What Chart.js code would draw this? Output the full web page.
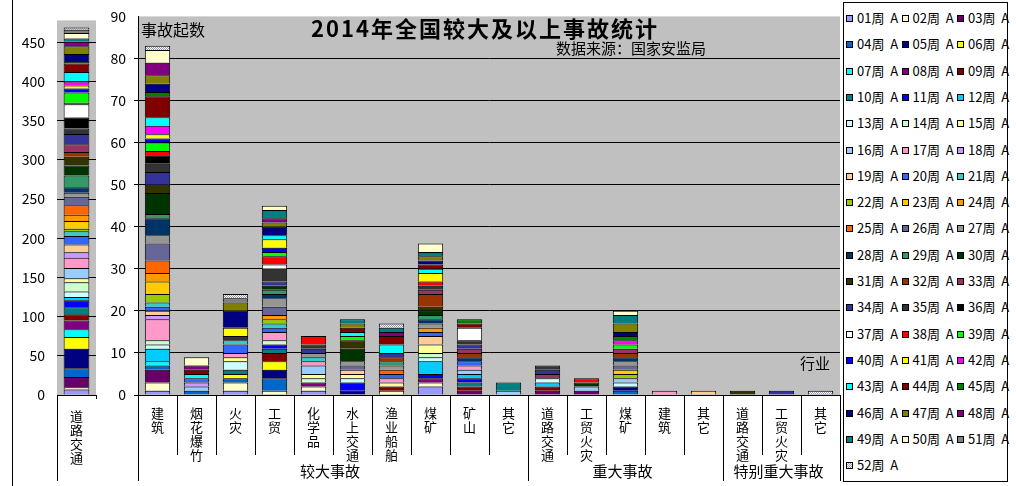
<!DOCTYPE html>
<html>
<head>
<meta charset="utf-8">
<script src="https://cdn.jsdelivr.net/npm/chart.js@4.4.0/dist/chart.umd.min.js"></script>
<style>
  body { margin: 0; background: #fff; font-family: "Noto Sans CJK SC", sans-serif; }
  #wrap { position: relative; width: 1016px; height: 486px; overflow: hidden; }
  canvas { position: absolute; top: 0; }
  #leftChart { left: 0; }
  #mainChart { left: 100px; }
  .txt { position: absolute; color: #000; white-space: nowrap; }
  #title { left: 285px; width: 400px; top: 11px; text-align: center; font-size: 22px; font-weight: bold; letter-spacing: 2px; }
  #src { left: 556px; top: 37px; font-size: 15px; }
  #ylab { left: 141px; top: 17px; font-size: 16px; }
  #xlab { left: 800px; top: 352px; font-size: 15px; }
  #frame { position: absolute; left: 12px; top: 0; width: 1px; height: 486px; background: #000; }
  #legend { position: absolute; left: 843px; top: 2px; width: 165px; height: 480px; border: 1px solid #000; box-sizing: border-box; background: #fff; }
  .item { position: absolute; height: 16px; line-height: 16px; font-size: 13px; white-space: pre; }
  .sw { display: inline-block; width: 5px; height: 5px; border: 1px solid #000; margin-right: 4px; vertical-align: 1px; }
</style>
</head>
<body>
<div id="wrap">
  <div id="frame"></div>
  <canvas id="leftChart" width="100" height="486"></canvas>
  <canvas id="mainChart" width="742" height="486"></canvas>
  <div id="legend"></div>
  <div class="txt" id="title">2014年全国较大及以上事故统计</div>
  <div class="txt" id="src">数据来源：国家安监局</div>
  <div class="txt" id="ylab">事故起数</div>
  <div class="txt" id="xlab">行业</div>
</div>
<script>
// weeks 01..52, one value per week for every industry bar
const weeks = ['01','02','03','04','05','06','07','08','09','10','11','12','13',
  '14','15','16','17','18','19','20','21','22','23','24','25','26',
  '27','28','29','30','31','32','33','34','35','36','37','38','39',
  '40','41','42','43','44','45','46','47','48','49','50','51','52'];

const weekColors = ['#9999FF','#FFFFCC','#660066','#0066CC','#000080','#FFFF00','#00FFFF','#800080','#800000','#008080',
  '#0000FF','#00CCFF','#CCFFFF','#CCFFCC','#FFFF99','#99CCFF','#FF99CC','#CC99FF','#FFCC99','#3366FF',
  '#33CCCC','#99CC00','#FFCC00','#FF9900','#FF6600','#666699','#969696','#003366','#339966','#003300',
  '#333300','#993300','#993366','#333399','#333333','#000000','#FFFFFF','#FF0000','#00FF00','#0000FF',
  '#FFFF00','#FF00FF','#00FFFF','#800000','#008000','#000080','#808000','#800080','#008080','#FFFFCC',
  '#808080','pattern'];

// 较大事故 道路交通 (own axis, left)
const lgRoad = [7,3,13,11,25,15,10,11,8,9,9,4,7,
  12,5,13,13,7,10,11,6,3,10,8,12,11,
  5,7,15,13,11,6,10,13,7,14,17,2,13,
  5,4,5,12,11,2,10,10,6,4,7,4,3];

// 较大事故
const lgBuild = [1,2,3,1,0,0,1,0,0,0,0,3,1,
  1,0,0,5,1,1,1,1,2,3,2,3,4,
  2,4,1,5,2,0,0,3,2,2,0,1,2,
  1,1,2,2,5,1,2,2,3,0,3,0,1];
const lgFireworks = [0,0,0,1,0,0,0,0,0,0,0,0,0,
  0,0,1,0,1,0,1,0,0,0,0,0,0,
  0,0,0,0,0,0,0,0,0,0,0,0,0,
  0,0,0,1,1,0,0,0,1,0,2,0,0];
const lgFire = [1,2,0,1,0,1,0,0,0,1,0,0,2,
  0,1,0,1,0,0,2,1,0,0,0,0,0,
  0,0,0,0,0,0,0,0,1,0,0,0,0,
  0,2,0,0,0,0,4,2,0,0,0,1,1];
const lgIndustry = [0,1,0,3,2,2,0,0,2,1,1,0,0,
  1,0,0,2,0,0,1,1,1,0,1,0,2,
  2,1,1,1,0,0,0,1,3,0,1,2,1,
  1,2,0,1,0,0,2,1,1,2,1,0,0];
const lgChemical = [1,1,0,0,0,0,0,1,0,0,0,0,0,
  1,1,2,1,0,0,0,1,0,0,0,0,0,
  1,0,0,0,0,0,0,1,1,0,0,2,0,
  0,0,0,0,0,0,0,0,0,0,0,0,0];
const lgWater = [0,0,0,0,1,0,0,0,0,0,2,0,1,
  0,1,0,0,0,1,0,0,0,0,0,0,1,
  1,0,0,3,2,0,0,0,0,0,0,0,1,
  0,0,0,1,1,0,0,1,0,1,0,0,0];
const lgFishing = [0,1,0,0,0,0,0,0,1,0,0,0,0,
  0,1,0,1,0,0,1,0,0,0,0,1,0,
  1,0,1,0,0,1,0,1,0,0,0,0,0,
  0,0,0,2,2,0,0,0,1,1,0,0,1];
const lgCoal = [2,1,0,0,0,0,0,1,0,0,1,3,1,
  1,2,0,0,0,2,1,0,0,0,1,0,0,
  1,1,1,1,1,3,1,0,1,0,0,1,0,
  0,2,0,1,1,0,1,1,0,1,2,0,0];
const lgMine = [0,0,1,0,0,0,0,0,1,1,1,1,0,
  0,0,1,1,0,0,1,0,0,0,0,0,0,
  0,1,0,0,0,1,1,1,1,0,3,0,0,
  0,0,0,0,1,1,0,0,0,0,0,0,0];
const lgOther = [0,0,0,0,0,0,0,0,0,0,0,0,0,
  0,0,1,0,0,0,0,0,0,0,0,0,0,
  0,0,0,0,0,0,0,0,0,0,0,0,0,
  0,0,0,0,0,0,0,0,0,2,0,0,0];

// 重大事故
const mjRoad = [0,0,1,0,0,0,0,0,1,0,0,1,1,
  0,0,0,0,0,0,0,0,0,0,0,0,0,
  0,0,0,0,0,0,1,1,1,0,0,0,0,
  0,0,0,0,0,0,0,0,0,0,0,0,0];
const mjIndFire = [0,0,1,0,0,0,0,0,0,0,0,0,0,
  0,0,1,0,0,0,0,0,0,0,0,0,0,
  0,0,0,1,0,0,0,0,0,0,0,1,0,
  0,0,0,0,0,0,0,0,0,0,0,0,0];
const mjCoal = [0,0,0,1,1,0,0,0,0,0,0,0,1,
  0,0,1,0,0,0,0,0,1,1,0,0,1,
  1,1,0,0,0,1,1,0,0,0,0,0,1,
  0,0,1,0,0,1,1,2,0,2,1,0,0];
const mjBuild = [0,0,0,0,0,0,0,0,0,0,0,0,0,
  0,0,0,1,0,0,0,0,0,0,0,0,0,
  0,0,0,0,0,0,0,0,0,0,0,0,0,
  0,0,0,0,0,0,0,0,0,0,0,0,0];
const mjOther = [0,0,0,0,0,0,0,0,0,0,0,0,0,
  0,0,0,0,0,1,0,0,0,0,0,0,0,
  0,0,0,0,0,0,0,0,0,0,0,0,0,
  0,0,0,0,0,0,0,0,0,0,0,0,0];

// 特别重大事故
const exRoad = [0,0,0,0,0,0,0,0,0,0,0,0,0,
  0,0,0,0,0,0,0,0,0,0,0,0,0,
  0,0,0,0,1,0,0,0,0,0,0,0,0,
  0,0,0,0,0,0,0,0,0,0,0,0,0];
const exIndFire = [0,0,0,0,0,0,0,0,0,0,0,0,0,
  0,0,0,0,0,0,0,0,0,0,0,0,0,
  0,0,0,0,0,0,0,1,0,0,0,0,0,
  0,0,0,0,0,0,0,0,0,0,0,0,0];
const exOther = [0,0,0,0,0,0,0,0,0,0,0,0,0,
  0,0,0,0,0,0,0,0,0,0,0,0,0,
  0,0,0,0,0,0,0,0,0,0,0,0,0,
  0,0,0,0,0,0,0,0,0,0,0,0,1];

const categories = ['建筑','烟花爆竹','火灾','工贸','化学品','水上交通','渔业船舶','煤矿','矿山','其它',
  '道路交通','工贸火灾','煤矿','建筑','其它',
  '道路交通','工贸火灾','其它'];
const rows = [lgBuild, lgFireworks, lgFire, lgIndustry, lgChemical, lgWater, lgFishing, lgCoal, lgMine, lgOther,
  mjRoad, mjIndFire, mjCoal, mjBuild, mjOther,
  exRoad, exIndFire, exOther];
const groups = [['较大事故', 10], ['重大事故', 5], ['特别重大事故', 3]];
const mainTicks = [0, 10, 20, 30, 40, 50, 60, 70, 80, 90];
const leftTicks = [0, 50, 100, 150, 200, 250, 300, 350, 400, 450];

const FONT = '"Noto Sans CJK SC", sans-serif';
Chart.defaults.font.family = FONT;
Chart.defaults.color = '#000';

function checker() {
  const c = document.createElement('canvas');
  c.width = 2; c.height = 2;
  const g = c.getContext('2d');
  g.fillStyle = '#ffffff'; g.fillRect(0, 0, 2, 2);
  g.fillStyle = '#9a9ab8'; g.fillRect(0, 0, 1, 1); g.fillRect(1, 1, 1, 1);
  return g.createPattern(c, 'repeat');
}
const pat = checker();
const fill = i => weekColors[i] === 'pattern' ? pat : weekColors[i];

const plotBg = {
  id: 'plotBg',
  beforeDraw(chart) {
    const { ctx, chartArea: a } = chart;
    ctx.save();
    ctx.fillStyle = '#C0C0C0';
    ctx.fillRect(a.left, a.top, a.right - a.left, a.bottom - a.top);
    ctx.restore();
  }
};

function vline(ctx, x, y0, y1) {
  x = Math.round(x) + 0.5;
  ctx.beginPath(); ctx.moveTo(x, y0); ctx.lineTo(x, y1); ctx.stroke();
}

// group labels + long separators under the category axis
const groupAxis = {
  id: 'groupAxis',
  afterDraw(chart) {
    const x = chart.scales.x, ctx = chart.ctx;
    const half = (x.getPixelForValue(1) - x.getPixelForValue(0)) / 2;
    ctx.save();
    ctx.strokeStyle = '#000'; ctx.lineWidth = 1;
    ctx.fillStyle = '#000';
    ctx.font = '15px ' + FONT;
    ctx.textAlign = 'center'; ctx.textBaseline = 'middle';
    let start = 0;
    groups.forEach(([name, n]) => {
      const x0 = x.getPixelForValue(start) - half;
      const x1 = x.getPixelForValue(start + n - 1) + half;
      vline(ctx, x0, x.top, x.top + 86);
      ctx.fillText(name, (x0 + x1) / 2 - 3, x.top + 76);
      start += n;
    });
    vline(ctx, x.getPixelForValue(start - 1) + half, x.top, x.top + 86);
    ctx.restore();
  }
};

const leftEdge = {
  id: 'leftEdge',
  afterDraw(chart) {
    const x = chart.scales.x, ctx = chart.ctx;
    ctx.save(); ctx.strokeStyle = '#000'; ctx.lineWidth = 1;
    vline(ctx, x.left, x.top, x.top + 86);
    ctx.restore();
  }
};

const mainDatasets = weeks.map((w, i) => ({
  label: w + '周',
  data: rows.map(r => r[i] || null),
  backgroundColor: fill(i),
  borderColor: '#000',
  borderWidth: 1,
  barPercentage: 0.65,
  categoryPercentage: 1
}));

const mainChart = new Chart(document.getElementById('mainChart'), {
  type: 'bar',
  data: { labels: categories.map(c => Array.from(c)), datasets: mainDatasets },
  options: {
    responsive: false,
    devicePixelRatio: 1,
    animation: false,
    layout: { padding: { left: 0, right: 2, top: 16, bottom: 0 } },
    plugins: { legend: { display: false }, tooltip: { enabled: false } },
    scales: {
      x: {
        stacked: true,
        border: { color: '#000' },
        grid: { display: true, drawOnChartArea: false, drawTicks: true, tickLength: 60, color: '#000', offset: true },
        ticks: { font: { size: 13, lineHeight: '14px' }, padding: -49, maxRotation: 0, minRotation: 0, autoSkip: false },
        afterFit(s) { s.height = 91; }
      },
      y: {
        stacked: true,
        min: 0, max: 90,
        afterBuildTicks(s) { s.ticks = mainTicks.map(v => ({ value: v })); },
        border: { color: '#000' },
        grid: { color: c => (c.tick && c.tick.value === 90) ? 'rgba(0,0,0,0)' : '#000', tickLength: 4 },
        ticks: { font: { size: 14 }, padding: 8 },
        afterFit(s) { s.width = 38; }
      }
    }
  },
  plugins: [plotBg, groupAxis]
});

const leftDatasets = weeks.map((w, i) => ({
  label: w + '周',
  data: [lgRoad[i] || null],
  backgroundColor: fill(i),
  borderColor: '#000',
  borderWidth: 1,
  barPercentage: 0.66,
  categoryPercentage: 1
}));

new Chart(document.getElementById('leftChart'), {
  type: 'bar',
  data: { labels: [Array.from('道路交通')], datasets: leftDatasets },
  options: {
    responsive: false,
    devicePixelRatio: 1,
    animation: false,
    layout: { padding: { left: 13, right: 4, top: 16, bottom: 0 } },
    plugins: { legend: { display: false }, tooltip: { enabled: false } },
    scales: {
      x: {
        stacked: true,
        border: { color: '#000' },
        grid: { display: true, drawOnChartArea: false, drawTicks: true, tickLength: 4, color: '#000', offset: true },
        ticks: { font: { size: 13, lineHeight: '14px' }, padding: 10, maxRotation: 0, minRotation: 0, autoSkip: false },
        afterFit(s) { s.height = 91; }
      },
      y: {
        stacked: true,
        min: 0, max: 478,
        afterBuildTicks(s) { s.ticks = leftTicks.map(v => ({ value: v })); },
        border: { display: false },
        grid: { color: '#000', drawTicks: false },
        ticks: { font: { size: 14 }, padding: 12 },
        afterFit(s) { s.width = 44; }
      }
    }
  },
  plugins: [plotBg, leftEdge]
});

// legend box, three items per row, built from the chart's datasets
const legendBox = document.getElementById('legend');
mainChart.data.datasets.forEach((ds, i) => {
  const col = i % 3, row = Math.floor(i / 3);
  const item = document.createElement('div');
  item.className = 'item';
  item.style.left = (2 + col * 55.5) + 'px';
  item.style.top = (7 + row * 26.3) + 'px';
  const sw = document.createElement('span');
  sw.className = 'sw';
  if (weekColors[i] === 'pattern') {
    sw.style.background = 'repeating-conic-gradient(#9a9ab8 0 25%, #fff 0 50%) 0 0 / 2px 2px';
  } else {
    sw.style.background = weekColors[i];
  }
  item.appendChild(sw);
  item.appendChild(document.createTextNode(ds.label + '  A'));
  legendBox.appendChild(item);
});
</script>
</body>
</html>
